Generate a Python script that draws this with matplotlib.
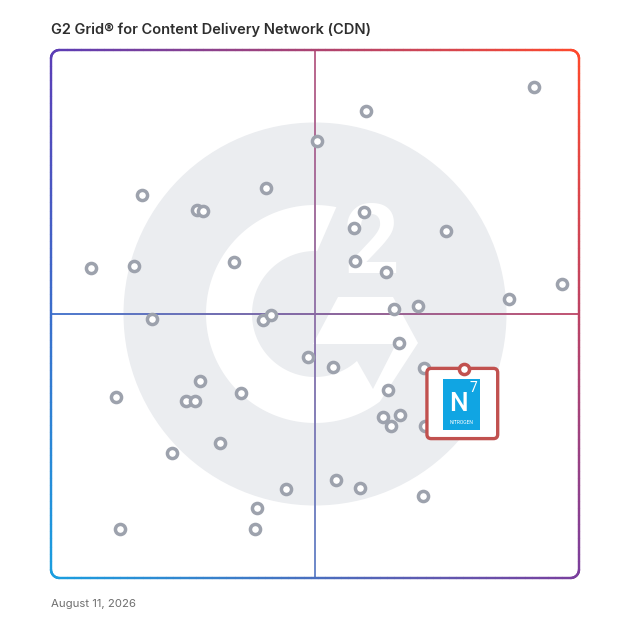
import numpy as np
import matplotlib
matplotlib.use('Agg')
import matplotlib.pyplot as plt
from matplotlib.collections import LineCollection
from matplotlib.patches import Circle, Polygon, FancyBboxPatch, Rectangle
from matplotlib.colors import to_rgb

# G2 grid positions (0-100): x = satisfaction, y = market presence
vendor_x = [91.5, 59.7, 50.4, 17.2, 40.7, 27.6, 28.8, 59.2, 57.3, 74.8,
            7.6, 15.7, 34.7, 57.6, 63.5, 96.8, 86.8, 69.6, 65.0, 19.1,
            40.1, 41.6, 66.0, 48.6, 53.5, 70.7, 28.2, 12.3, 25.6, 27.3,
            35.9, 63.9, 62.8, 64.3, 66.1, 70.8, 32.0, 23.0, 53.9, 58.5,
            44.6, 70.5, 39.0, 13.1, 38.7]
vendor_y = [93.0, 88.4, 82.8, 72.5, 73.8, 69.7, 69.6, 69.4, 66.3, 65.7,
            58.8, 59.1, 59.9, 60.1, 58.0, 55.6, 52.8, 51.6, 51.0, 49.0,
            48.8, 49.9, 44.5, 41.9, 40.0, 39.8, 37.3, 34.2, 33.5, 33.6,
            35.1, 35.7, 30.4, 28.8, 30.9, 28.8, 25.6, 23.7, 18.5, 17.0,
            16.9, 15.6, 13.3, 9.2, 9.2]
highlight_x = 78.2
highlight_y = 39.5
highlight_name = 'NITROGEN'

title = 'G2 Grid® for Content Delivery Network (CDN)'
date_label = 'August 11, 2026'

# corner colours of the gradient frame
c_tl = np.array(to_rgb('#5b3db6'))
c_tr = np.array(to_rgb('#ff492c'))
c_bl = np.array(to_rgb('#1a9fe0'))
c_br = np.array(to_rgb('#7a3f9e'))


def grad(x, y, fade=0.0):
    u, v = x / 100.0, y / 100.0
    c = ((1 - u) * (1 - v) * c_bl + u * (1 - v) * c_br
         + (1 - u) * v * c_tl + u * v * c_tr)
    return tuple(c * (1 - fade) + fade)


def gradient_line(ax, xs, ys, lw):
    pts = np.column_stack([xs, ys])
    segs = np.stack([pts[:-1], pts[1:]], axis=1)
    mid = (pts[:-1] + pts[1:]) / 2
    cols = [grad(mx, my) for mx, my in mid]
    lc = LineCollection(segs, colors=cols, linewidths=lw, capstyle='round',
                        clip_on=False, zorder=2)
    ax.add_collection(lc)


def rounded_rect(r):
    xs, ys = [], []
    corners = [(100 - r, 100 - r, 0), (r, 100 - r, 90), (r, r, 180), (100 - r, r, 270)]
    for cx, cy, a0 in corners:
        t = np.radians(np.linspace(a0, a0 + 90, 20))
        xs.extend(cx + r * np.cos(t))
        ys.extend(cy + r * np.sin(t))
    xs.append(xs[0])
    ys.append(ys[0])
    fx, fy = [], []
    for i in range(len(xs) - 1):
        k = max(2, int(np.hypot(xs[i + 1] - xs[i], ys[i + 1] - ys[i]) * 3))
        fx.extend(np.linspace(xs[i], xs[i + 1], k)[:-1])
        fy.extend(np.linspace(ys[i], ys[i + 1], k)[:-1])
    fx.append(xs[-1])
    fy.append(ys[-1])
    return np.array(fx), np.array(fy)


fig = plt.figure(figsize=(6.28, 6.28), dpi=100)
ax = fig.add_axes([51 / 628, 50 / 628, 528 / 628, 528 / 628])
ax.set_xlim(0, 100)
ax.set_ylim(0, 100)
ax.axis('off')

# G2 watermark
s = 1 / 5.28
cx, cy = 50.0, 50.0
ax.add_patch(Circle((cx, cy), 191.5 * s, color='#ebedf0', lw=0, zorder=0))
R, r = 109, 63
a_out = np.radians(np.linspace(78.7, 306.5, 120))
a_in = np.radians(np.linspace(311.8, 88, 120))
g_pts = [(R * np.cos(a), R * np.sin(a)) for a in a_out]
g_pts += [(103, -29), (78, 17), (23, 17), (-2, -30), (81, -30), (58, -75)]
g_pts += [(r * np.cos(a), r * np.sin(a)) for a in a_in]
g_pts = [(cx + px * s, cy + py * s) for px, py in g_pts]
ax.add_patch(Polygon(g_pts, closed=True, color='white', lw=0, zorder=0.5))
ax.text(cx + 57 * s, cy + 67 * s, '2', color='white', fontsize=70,
        fontfamily='Roboto', fontweight='bold', ha='center', va='center', zorder=0.6)

# quadrant lines as thin gradient strips
t = np.linspace(0, 100, 300)
vcol = np.array([grad(50, v, 0.2) for v in t[::-1]]).reshape(-1, 1, 3)
hcol = np.array([grad(u, 50, 0.1) for u in t]).reshape(1, -1, 3)
hw = 0.13
ax.imshow(vcol, extent=[50 - hw, 50 + hw, 0, 100], aspect='auto',
          interpolation='bilinear', zorder=1)
ax.imshow(hcol, extent=[0, 100, 50 - hw, 50 + hw], aspect='auto',
          interpolation='bilinear', zorder=1)
ax.set_xlim(0, 100)
ax.set_ylim(0, 100)

# frame
fx, fy = rounded_rect(1.6)
gradient_line(ax, fx, fy, 1.7)

# vendors
ax.plot(vendor_x, vendor_y, 'o', ms=7.3, mew=2.5, mec='#9da2ad', mfc='white',
        ls='none', zorder=3, clip_on=False)

# highlighted vendor card
red = '#c1514f'
ax.add_patch(FancyBboxPatch((highlight_x - 7.0, highlight_y - 13.1), 13.4, 13.3,
                            boxstyle='round,pad=0,rounding_size=0.8',
                            fc='white', ec=red, lw=2.4, zorder=4))
ax.add_patch(Rectangle((highlight_x - 4.0, highlight_y - 11.4), 7.0, 9.5,
                       fc='#10a5e3', lw=0, zorder=5))
ax.text(highlight_x - 1.0, highlight_y - 6.6, 'N', color='white', fontsize=19,
        fontfamily='Roboto', fontweight='medium', ha='center', va='center', zorder=6)
ax.text(highlight_x + 1.8, highlight_y - 3.5, '7', color='white', fontsize=10,
        fontfamily='Roboto', ha='center', va='center', zorder=6)
ax.text(highlight_x - 0.5, highlight_y - 10.0, highlight_name, color='white', fontsize=3.6,
        fontfamily='Roboto', ha='center', va='center', zorder=6)
ax.plot([highlight_x], [highlight_y], 'o', ms=7.3, mew=2.5, mec=red, mfc='white',
        zorder=7, clip_on=False)

fig.text(51 / 628, 1 - 29.5 / 628, title, fontsize=10.5, fontfamily='Inter',
         fontweight='semibold', color='#2e2e2e', ha='left', va='center')
fig.text(51 / 628, 1 - 604 / 628, date_label, fontsize=8.2, fontfamily='Inter',
         color='#6e6e6e', ha='left', va='center')

fig.savefig('out.png', dpi=100, facecolor='white')
